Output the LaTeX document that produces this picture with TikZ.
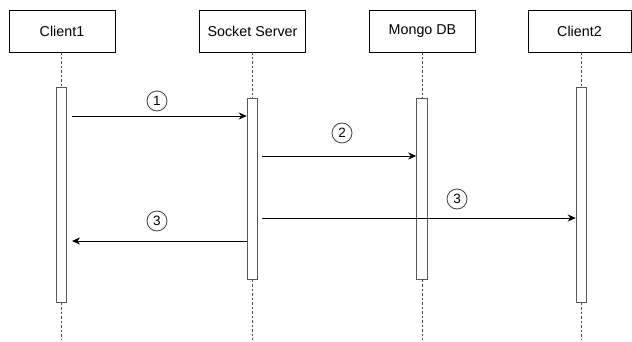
\documentclass[tikz,border=0pt]{standalone}
\usepackage{fontspec}
\setmainfont{Liberation Sans}
\usetikzlibrary{arrows.meta}
\begin{document}
\begin{tikzpicture}[x=1pt,y=-1pt,
 actor/.style={draw=black,line width=0.8pt,minimum height=42pt,inner sep=0,font=\fontsize{14.3}{16}\selectfont},
 act/.style={draw=black!65,line width=1pt,fill=white,minimum width=10.5pt,inner sep=0},
 life/.style={dash pattern=on 2.5pt off 2pt,draw=black!70,line width=0.8pt},
 msg/.style={-{Stealth[length=8pt,width=7pt,inset=2.5pt]},line width=0.9pt},
 num/.style={circle,draw=black!75,line width=0.8pt,minimum size=20pt,inner sep=0,font=\fontsize{13.5}{15}\selectfont}]
\useasboundingbox (0,0) rectangle (632,342);
% actors
\node[actor,minimum width=106pt] (c1) at (62,31) {Client1};
\node[actor,minimum width=106pt] (ss) at (252.5,31) {Socket Server};
\node[actor,minimum width=106pt] (db) at (422.5,31) {Mongo DB};
\node[actor,minimum width=103pt] (c2) at (579.5,31) {Client2};
% activations
\node[act,minimum height=214pt] (a1) at (61.5,195) {};
\node[act,minimum height=180pt] (a2) at (252.5,189) {};
\node[act,minimum height=180pt] (a3) at (422,189) {};
\node[act,minimum height=214pt] (a4) at (581.5,195) {};
% lifeline ends
\coordinate (e1) at (61.5,340);
\coordinate (e2) at (252.5,340);
\coordinate (e3) at (422,340);
\coordinate (e4) at (581.5,340);
\draw[life] (a1.north |- c1.south) -- (a1.north) (a1.south) -- (e1);
\draw[life] (a2.north |- ss.south) -- (a2.north) (a2.south) -- (e2);
\draw[life] (a3.north |- db.south) -- (a3.north) (a3.south) -- (e3);
\draw[life] (a4.north |- c2.south) -- (a4.north) (a4.south) -- (e4);
% messages
\coordinate (m1) at (72,116);
\coordinate (m2) at (262,156);
\coordinate (m3) at (262,218);
\coordinate (m4) at (72,241);
\draw[msg] (m1) -- (a2.west |- m1);
\draw[msg] (m2) -- (a3.west |- m2);
\draw[msg] (m3) -- (a4.west |- m3);
\draw[msg] (a2.west |- m4) -- (m4);
% labels
\node[num] (n1) at (157,101) {1};
\node[num] (n2) at (342,133) {2};
\node[num] (n3) at (457,199) {3};
\node[num] (n4) at (157,221) {3};
\end{tikzpicture}
\end{document}
